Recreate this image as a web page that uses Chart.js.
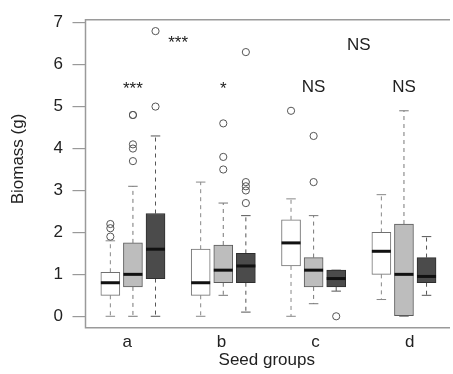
<!DOCTYPE html>
<html>
<head>
<meta charset="utf-8">
<script src="https://cdn.jsdelivr.net/npm/chart.js@4/dist/chart.umd.min.js"></script>
<style>
  html, body { margin: 0; padding: 0; background: #fff; }
  #wrap { position: relative; width: 453px; height: 374px; }
</style>
</head>
<body>
<div id="wrap"><canvas id="myChart"></canvas></div>
<script>
// seed groups on the x axis
const categories = ['a', 'b', 'c', 'd'];
const groupTicks = [1.75, 5.917, 10.083, 14.25];
const yTickValues = [0, 1, 2, 3, 4, 5, 6, 7];

// box stats per group: [min, q1, median, q3, max]
const whiteStats = [
  [0, 0.5, 0.8, 1.05, 1.8],
  [0, 0.5, 0.8, 1.6, 3.2],
  [0, 1.2, 1.75, 2.3, 2.8],
  [0.4, 1.0, 1.55, 2.0, 2.9],
];
const lightStats = [
  [0, 0.7, 1.0, 1.75, 3.1],
  [0.5, 0.8, 1.1, 1.7, 2.7],
  [0.3, 0.7, 1.1, 1.4, 2.4],
  [0, 0, 1.0, 2.2, 4.9],
];
const darkStats = [
  [0, 0.9, 1.6, 2.45, 4.3],
  [0.1, 0.8, 1.2, 1.5, 2.4],
  [0.6, 0.7, 0.9, 1.1, 1.1],
  [0.5, 0.8, 0.95, 1.4, 1.9],
];

// outliers per group
const whiteOutliers = [[1.9, 2.1, 2.2], [], [4.9], []];
const lightOutliers = [[3.7, 4.0, 4.1, 4.8, 4.8], [3.5, 3.8, 4.6], [3.2, 4.3], []];
const darkOutliers = [[5.0, 6.8], [2.7, 3.0, 3.1, 3.2, 6.3], [0], []];

// significance marks
const sigLabels = ['***', '***', '*', 'NS', 'NS', 'NS'];
const sigX = [2, 4, 6, 10, 12, 14];
const sigY = [5.42, 6.52, 5.42, 5.47, 6.46, 5.47];

const yTitle = 'Biomass (g)';
const xTitle = 'Seed groups';

Chart.defaults.font.family = "'Liberation Sans', Arial, sans-serif";
Chart.defaults.font.size = 17;
Chart.defaults.color = '#222';

const series = [
  { stats: whiteStats, outliers: whiteOutliers, fill: '#ffffff', line: '#707070', whisker: '#888' },
  { stats: lightStats, outliers: lightOutliers, fill: '#bdbdbd', line: '#5a5a5a', whisker: '#777' },
  { stats: darkStats, outliers: darkOutliers, fill: '#4b4b4b', line: '#2e2e2e', whisker: '#555' },
];

function pos(g, s) {
  return 1 + 4 * g + s;
}

const boxSets = series.map((ser, s) => ({
  type: 'bar',
  data: ser.stats.map((st, g) => ({ x: pos(g, s), y: [st[1], st[3]] })),
  backgroundColor: ser.fill,
  borderColor: ser.line,
  borderWidth: 1,
  borderSkipped: false,
  barThickness: 19,
  grouped: false,
  order: 2,
}));

const outlierSets = series.map((ser, s) => ({
  type: 'scatter',
  data: ser.outliers.flatMap((vals, g) => vals.map(v => ({ x: pos(g, s), y: v }))),
  pointStyle: 'circle',
  pointRadius: 3.6,
  borderColor: '#555',
  borderWidth: 1,
  backgroundColor: 'rgba(0,0,0,0)',
  order: 1,
}));

const boxParts = {
  id: 'boxParts',
  beforeDatasetsDraw(chart) {
    const { ctx, scales: { x, y } } = chart;
    ctx.save();
    series.forEach((ser, s) => {
      ser.stats.forEach((st, g) => {
        const px = x.getPixelForValue(pos(g, s));
        ctx.strokeStyle = ser.whisker;
        ctx.lineWidth = 1;
        ctx.setLineDash([4, 4]);
        ctx.beginPath();
        ctx.moveTo(px, y.getPixelForValue(st[3]));
        ctx.lineTo(px, y.getPixelForValue(st[4]));
        ctx.moveTo(px, y.getPixelForValue(st[1]));
        ctx.lineTo(px, y.getPixelForValue(st[0]));
        ctx.stroke();
        ctx.setLineDash([]);
        ctx.beginPath();
        [st[0], st[4]].forEach(v => {
          const py = y.getPixelForValue(v);
          ctx.moveTo(px - 4.75, py);
          ctx.lineTo(px + 4.75, py);
        });
        ctx.stroke();
      });
    });
    ctx.restore();
  },
  afterDatasetsDraw(chart) {
    const { ctx, chartArea, scales: { x, y } } = chart;
    ctx.save();
    // medians
    ctx.strokeStyle = '#111';
    ctx.lineWidth = 3;
    series.forEach((ser, s) => {
      ser.stats.forEach((st, g) => {
        const px = x.getPixelForValue(pos(g, s));
        const py = y.getPixelForValue(st[2]);
        ctx.beginPath();
        ctx.moveTo(px - 9.5, py);
        ctx.lineTo(px + 9.5, py);
        ctx.stroke();
      });
    });
    // frame (open on the right, as in the original)
    ctx.strokeStyle = '#9a9a9a';
    ctx.lineWidth = 1.5;
    ctx.beginPath();
    ctx.moveTo(chartArea.right + 2, chartArea.top);
    ctx.lineTo(chartArea.left, chartArea.top);
    ctx.lineTo(chartArea.left, chartArea.bottom);
    ctx.lineTo(chartArea.right + 2, chartArea.bottom);
    ctx.stroke();
    // significance marks
    ctx.fillStyle = '#222';
    ctx.font = "17px 'Liberation Sans', Arial, sans-serif";
    ctx.textAlign = 'center';
    ctx.textBaseline = 'middle';
    sigLabels.forEach((t, i) => {
      ctx.fillText(t, x.getPixelForValue(sigX[i]), y.getPixelForValue(sigY[i]));
    });
    // y title
    ctx.translate(18, 159);
    ctx.rotate(-Math.PI / 2);
    ctx.fillText(yTitle, 0, 0);
    ctx.restore();
  }
};

new Chart(document.getElementById('myChart'), {
  type: 'bar',
  data: { datasets: [...boxSets, ...outlierSets] },
  options: {
    responsive: true,
    maintainAspectRatio: false,
    animation: false,
    layout: { padding: { top: 12.9, right: 0, bottom: 0, left: 0 } },
    plugins: {
      legend: { display: false },
      tooltip: { enabled: false },
    },
    scales: {
      x: {
        type: 'linear',
        min: -0.1,
        max: 15.95,
        offset: false,
        grid: { display: false, drawTicks: false },
        border: { display: false },
        afterBuildTicks: scale => { scale.ticks = groupTicks.map(v => ({ value: v })); },
        afterFit: scale => { scale.height = 46.3; },
        ticks: {
          autoSkip: false,
          maxRotation: 0,
          padding: 4,
          callback: (value, index) => categories[index],
        },
        title: { display: true, text: xTitle, padding: { top: 0, bottom: 3 } },
      },
      y: {
        min: -0.272,
        max: 7.072,
        grid: { drawOnChartArea: false, drawTicks: true, tickLength: 13, color: '#999', lineWidth: 1.2 },
        border: { display: false },
        afterBuildTicks: scale => { scale.ticks = yTickValues.map(v => ({ value: v })); },
        afterFit: scale => { scale.width = 85.5; },
        ticks: { padding: 9.5 },
      }
    }
  },
  plugins: [boxParts],
});
</script>
</body>
</html>
